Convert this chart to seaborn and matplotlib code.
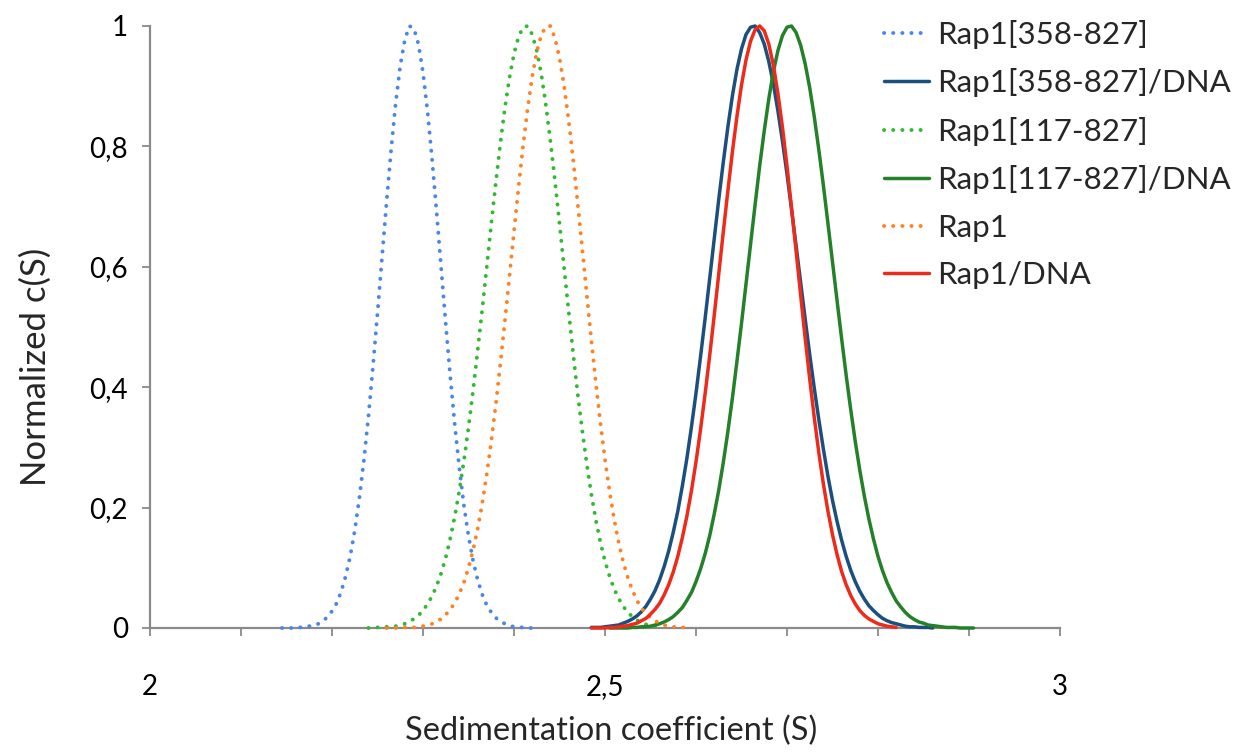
import matplotlib
matplotlib.use("Agg")
import matplotlib.pyplot as plt
import seaborn as sns

# sedimentation coefficient (S) and normalized c(S)
r358_x = [2.145, 2.15, 2.155, 2.16, 2.165, 2.17, 2.175, 2.18, 2.185, 2.19, 2.195, 2.2, 2.205, 2.21, 2.215,
          2.22, 2.225, 2.23, 2.235, 2.24, 2.245, 2.25, 2.255, 2.26, 2.265, 2.27, 2.275, 2.28, 2.285, 2.29,
          2.295, 2.3, 2.305, 2.31, 2.315, 2.32, 2.325, 2.33, 2.335, 2.34, 2.345, 2.35, 2.355, 2.36, 2.365,
          2.37, 2.375, 2.38, 2.385, 2.39, 2.395, 2.4, 2.405, 2.41, 2.415, 2.42]
r358_y = [0, 0, 0, 0, 0.001, 0.002, 0.003, 0.004, 0.007, 0.012, 0.018, 0.028, 0.041, 0.06, 0.086,
          0.119, 0.162, 0.215, 0.278, 0.351, 0.434, 0.523, 0.616, 0.708, 0.795, 0.872, 0.934, 0.977, 1.0, 0.996,
          0.97, 0.923, 0.858, 0.778, 0.69, 0.597, 0.505, 0.417, 0.336, 0.265, 0.203, 0.153, 0.112, 0.08, 0.056,
          0.038, 0.026, 0.017, 0.011, 0.007, 0.004, 0.002, 0.001, 0.001, 0, 0]

r358_dna_x = [2.485, 2.49, 2.495, 2.5, 2.505, 2.51, 2.515, 2.52, 2.525, 2.53, 2.535, 2.54, 2.545, 2.55, 2.555,
              2.56, 2.565, 2.57, 2.575, 2.58, 2.585, 2.59, 2.595, 2.6, 2.605, 2.61, 2.615, 2.62, 2.625, 2.63,
              2.635, 2.64, 2.645, 2.65, 2.655, 2.66, 2.665, 2.67, 2.675, 2.68, 2.685, 2.69, 2.695, 2.7, 2.705,
              2.71, 2.715, 2.72, 2.725, 2.73, 2.735, 2.74, 2.745, 2.75, 2.755, 2.76, 2.765, 2.77, 2.775, 2.78,
              2.785, 2.79, 2.795, 2.8, 2.805, 2.81, 2.815, 2.82, 2.825, 2.83, 2.835, 2.84, 2.845, 2.85, 2.855, 2.86]
r358_dna_y = [0.001, 0.001, 0.001, 0.002, 0.003, 0.004, 0.005, 0.008, 0.011, 0.015, 0.02, 0.027, 0.036, 0.048,
              0.062, 0.08, 0.102, 0.128, 0.159, 0.194, 0.236, 0.282, 0.334, 0.39, 0.451, 0.514, 0.58, 0.646,
              0.712, 0.774, 0.832, 0.884, 0.928, 0.962, 0.986, 0.998, 1.0, 0.989, 0.97, 0.941, 0.904, 0.859,
              0.809, 0.754, 0.695, 0.635, 0.574, 0.513, 0.454, 0.398, 0.346, 0.297, 0.252, 0.212, 0.177, 0.146,
              0.119, 0.096, 0.077, 0.061, 0.048, 0.037, 0.029, 0.022, 0.016, 0.012, 0.009, 0.007, 0.005, 0.003,
              0.002, 0.002, 0.001, 0.001, 0.001, 0]

r117_x = [2.24, 2.245, 2.25, 2.255, 2.26, 2.265, 2.27, 2.275, 2.28, 2.285, 2.29, 2.295, 2.3, 2.305, 2.31,
          2.315, 2.32, 2.325, 2.33, 2.335, 2.34, 2.345, 2.35, 2.355, 2.36, 2.365, 2.37, 2.375, 2.38, 2.385,
          2.39, 2.395, 2.4, 2.405, 2.41, 2.415, 2.42, 2.425, 2.43, 2.435, 2.44, 2.445, 2.45, 2.455, 2.46,
          2.465, 2.47, 2.475, 2.48, 2.485, 2.49, 2.495, 2.5, 2.505, 2.51, 2.515, 2.52, 2.525, 2.53, 2.535,
          2.54, 2.545, 2.55, 2.555, 2.56]
r117_y = [0, 0, 0.001, 0.001, 0.002, 0.002, 0.003, 0.005, 0.007, 0.011, 0.015, 0.021, 0.029, 0.04, 0.053,
          0.07, 0.091, 0.117, 0.149, 0.186, 0.229, 0.278, 0.333, 0.394, 0.46, 0.528, 0.599, 0.671, 0.74, 0.805,
          0.864, 0.914, 0.954, 0.982, 0.998, 1.0, 0.986, 0.959, 0.92, 0.869, 0.809, 0.743, 0.672, 0.599, 0.527,
          0.456, 0.389, 0.328, 0.272, 0.222, 0.179, 0.142, 0.111, 0.086, 0.065, 0.049, 0.036, 0.026, 0.019, 0.013,
          0.009, 0.006, 0.004, 0.003, 0.002]

r117_dna_x = [2.505, 2.51, 2.515, 2.52, 2.525, 2.53, 2.535, 2.54, 2.545, 2.55, 2.555, 2.56, 2.565, 2.57, 2.575,
              2.58, 2.585, 2.59, 2.595, 2.6, 2.605, 2.61, 2.615, 2.62, 2.625, 2.63, 2.635, 2.64, 2.645, 2.65,
              2.655, 2.66, 2.665, 2.67, 2.675, 2.68, 2.685, 2.69, 2.695, 2.7, 2.705, 2.71, 2.715, 2.72, 2.725,
              2.73, 2.735, 2.74, 2.745, 2.75, 2.755, 2.76, 2.765, 2.77, 2.775, 2.78, 2.785, 2.79, 2.795, 2.8,
              2.805, 2.81, 2.815, 2.82, 2.825, 2.83, 2.835, 2.84, 2.845, 2.85, 2.855, 2.86, 2.865, 2.87, 2.875,
              2.88, 2.885, 2.89, 2.895, 2.9, 2.905]
r117_dna_y = [0, 0, 0, 0, 0, 0.001, 0.001, 0.002, 0.002, 0.003, 0.005, 0.007, 0.01, 0.014, 0.019,
              0.026, 0.034, 0.046, 0.059, 0.077, 0.098, 0.123, 0.153, 0.189, 0.229, 0.275, 0.326, 0.382, 0.443,
              0.506, 0.572, 0.638, 0.704, 0.768, 0.826, 0.879, 0.924, 0.959, 0.984, 0.998, 1.0, 0.989, 0.968,
              0.937, 0.897, 0.849, 0.794, 0.735, 0.672, 0.608, 0.544, 0.481, 0.42, 0.363, 0.31, 0.262, 0.219,
              0.181, 0.148, 0.119, 0.095, 0.075, 0.059, 0.045, 0.035, 0.026, 0.019, 0.014, 0.01, 0.008, 0.005,
              0.004, 0.003, 0.002, 0.001, 0.001, 0.001, 0, 0, 0, 0]

rap1_x = [2.26, 2.265, 2.27, 2.275, 2.28, 2.285, 2.29, 2.295, 2.3, 2.305, 2.31, 2.315, 2.32, 2.325, 2.33,
          2.335, 2.34, 2.345, 2.35, 2.355, 2.36, 2.365, 2.37, 2.375, 2.38, 2.385, 2.39, 2.395, 2.4, 2.405,
          2.41, 2.415, 2.42, 2.425, 2.43, 2.435, 2.44, 2.445, 2.45, 2.455, 2.46, 2.465, 2.47, 2.475, 2.48,
          2.485, 2.49, 2.495, 2.5, 2.505, 2.51, 2.515, 2.52, 2.525, 2.53, 2.535, 2.54, 2.545, 2.55, 2.555,
          2.56, 2.565, 2.57, 2.575, 2.58, 2.585, 2.59]
rap1_y = [0, 0, 0, 0, 0.001, 0.001, 0.001, 0.002, 0.003, 0.005, 0.007, 0.011, 0.015, 0.022, 0.031,
          0.042, 0.057, 0.076, 0.1, 0.129, 0.164, 0.206, 0.255, 0.31, 0.371, 0.439, 0.51, 0.584, 0.659, 0.732,
          0.801, 0.863, 0.916, 0.957, 0.985, 0.999, 1.0, 0.98, 0.947, 0.901, 0.844, 0.778, 0.705, 0.63, 0.553,
          0.478, 0.406, 0.34, 0.28, 0.227, 0.181, 0.142, 0.11, 0.084, 0.063, 0.046, 0.033, 0.024, 0.017, 0.012,
          0.008, 0.005, 0.003, 0.002, 0.001, 0.001, 0.001]

rap1_dna_x = [2.485, 2.49, 2.495, 2.5, 2.505, 2.51, 2.515, 2.52, 2.525, 2.53, 2.535, 2.54, 2.545, 2.55, 2.555,
              2.56, 2.565, 2.57, 2.575, 2.58, 2.585, 2.59, 2.595, 2.6, 2.605, 2.61, 2.615, 2.62, 2.625, 2.63,
              2.635, 2.64, 2.645, 2.65, 2.655, 2.66, 2.665, 2.67, 2.675, 2.68, 2.685, 2.69, 2.695, 2.7, 2.705,
              2.71, 2.715, 2.72, 2.725, 2.73, 2.735, 2.74, 2.745, 2.75, 2.755, 2.76, 2.765, 2.77, 2.775, 2.78,
              2.785, 2.79, 2.795, 2.8, 2.805, 2.81, 2.815, 2.82]
rap1_dna_y = [0, 0, 0, 0, 0.001, 0.001, 0.002, 0.003, 0.004, 0.006, 0.008, 0.012, 0.016, 0.023, 0.031,
              0.041, 0.055, 0.072, 0.093, 0.119, 0.15, 0.186, 0.228, 0.276, 0.33, 0.389, 0.452, 0.519, 0.588,
              0.658, 0.726, 0.791, 0.85, 0.902, 0.944, 0.975, 0.994, 1.0, 0.992, 0.97, 0.935, 0.888, 0.832,
              0.767, 0.698, 0.626, 0.553, 0.481, 0.413, 0.349, 0.291, 0.239, 0.194, 0.155, 0.122, 0.094, 0.072,
              0.054, 0.04, 0.029, 0.021, 0.015, 0.011, 0.007, 0.005, 0.003, 0.002, 0.001]

x_ticks = [2.0, 2.1, 2.2, 2.3, 2.4, 2.5, 2.6, 2.7, 2.8, 2.9, 3.0]
x_ticklabels = ["2", "", "", "", "", "2,5", "", "", "", "", "3"]
y_ticks = [0, 0.2, 0.4, 0.6, 0.8, 1]
y_ticklabels = ["0", "0,2", "0,4", "0,6", "0,8", "1"]

series = [
    ("Rap1[358-827]", r358_x, r358_y, "#4A86E8", "dot"),
    ("Rap1[358-827]/DNA", r358_dna_x, r358_dna_y, "#1B4F7E", "solid"),
    ("Rap1[117-827]", r117_x, r117_y, "#33B833", "dot"),
    ("Rap1[117-827]/DNA", r117_dna_x, r117_dna_y, "#25802A", "solid"),
    ("Rap1", rap1_x, rap1_y, "#FF8124", "dot"),
    ("Rap1/DNA", rap1_dna_x, rap1_dna_y, "#EE2B1B", "solid"),
]

sns.set_style("ticks")
plt.rcParams["font.family"] = ["Lato", "DejaVu Sans"]

fig = plt.figure(figsize=(12.38, 7.55), dpi=100)
ax = fig.add_axes([150 / 1238, 1 - 628 / 755, 910 / 1238, 602 / 755])

for name, xs, ys, col, kind in series:
    if kind == "dot":
        sns.lineplot(x=xs, y=ys, ax=ax, color=col, label=name, sort=False, estimator=None,
                     linewidth=2.8, linestyle=(0, (0.05, 2.3)), dash_capstyle="round",
                     clip_on=False, zorder=3)
    else:
        sns.lineplot(x=xs, y=ys, ax=ax, color=col, label=name, sort=False, estimator=None,
                     linewidth=2.5, clip_on=False, zorder=3)

ax.set_xlim(2, 3)
ax.set_ylim(0, 1)
ax.set_xticks(x_ticks)
ax.set_xticklabels(x_ticklabels)
ax.set_yticks(y_ticks)
ax.set_yticklabels(y_ticklabels)
for sp in ["top", "right"]:
    ax.spines[sp].set_visible(False)
for sp in ["left", "bottom"]:
    ax.spines[sp].set_color("#8A8A8A")
    ax.spines[sp].set_linewidth(1.6)
ax.tick_params(axis="both", colors="#8A8A8A", length=6, width=1.3, labelcolor="black", labelsize=20)
ax.tick_params(axis="x", pad=27)
ax.tick_params(axis="y", pad=10)

ax.set_xlabel("Sedimentation coefficient (S)", fontsize=23.5)
ax.set_ylabel("Normalized c(S)", fontsize=25)
ax.xaxis.set_label_coords(0.507, -0.146)
ax.yaxis.set_label_coords(-0.108, 0.433)

ax.get_legend().remove()
h, l = ax.get_legend_handles_labels()
fig.legend(h, l, loc="upper left", bbox_to_anchor=(884 / 1238, 1 - 20 / 755), frameon=False,
           fontsize=22.5, handlelength=1.45, handletextpad=0.25, labelspacing=0.62,
           borderpad=0, borderaxespad=0)

fig.savefig("out.png", dpi=100)
